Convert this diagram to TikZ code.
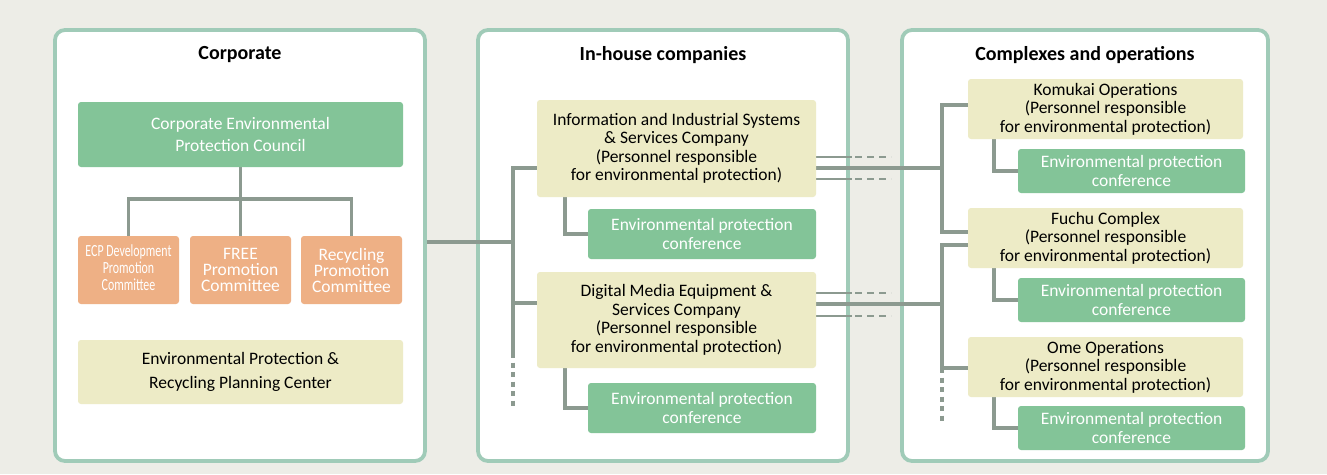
\documentclass[tikz,border=0pt]{standalone}
\usepackage{fontspec}
\setmainfont{Carlito}
\usetikzlibrary{calc}
\definecolor{bgc}{HTML}{EDEDE7}
\definecolor{panelc}{HTML}{A0CBB8}
\definecolor{linec}{HTML}{8C9A90}
\definecolor{greenc}{HTML}{83C498}
\definecolor{orangec}{HTML}{EEB085}
\definecolor{creamc}{HTML}{EDEBC6}
\pgfdeclarelayer{back}
\pgfdeclarelayer{mid}
\pgfsetlayers{back,mid,main}
\tikzset{
  panel/.style={draw=panelc, line width=3.8pt, fill=white, rounded corners=10pt, inner sep=0pt},
  ptitle/.style={font=\fontsize{20}{22}\selectfont\bfseries, inner sep=0pt},
  box/.style={rounded corners=3pt, inner sep=0pt, align=center, font=\fontsize{17.5}{18.5}\selectfont},
  greenbox/.style={box, fill=greenc, text=white},
  orangebox/.style={box, fill=orangec, text=white, font=\fontsize{17.5}{16}\selectfont},
  creambox/.style={box, fill=creamc, text=black},
  ln/.style={draw=linec, line width=3.8pt},
  thinln/.style={draw=linec, line width=2.6pt},
  dotln/.style={draw=linec, line width=3.8pt, dash pattern=on 5pt off 4.5pt},
  dashln/.style={draw=linec, line width=2.6pt, dash pattern=on 7pt off 5pt},
}
\begin{document}
\begin{tikzpicture}[x=1pt,y=-1pt]
\useasboundingbox (0,0) rectangle (1327,474);
\begin{pgfonlayer}{back}
\path[fill=bgc] (0,0) rectangle (1327,474);
\node[panel, minimum width=370pt, minimum height=431pt] (P1) at (240,245.5) {};
\node[panel, minimum width=370pt, minimum height=431pt] (P2) at (663,245.5) {};
\node[panel, minimum width=366pt, minimum height=431pt] (P3) at (1085,245.5) {};
\end{pgfonlayer}
\node[ptitle] (T1) at (240,55) {Corporate};
\node[ptitle] (T2) at (663,55) {In-house companies};
\node[ptitle] (T3) at (1085,55) {Complexes and operations};
% corporate
\node[greenbox, minimum width=325pt, minimum height=65pt, font=\fontsize{17.5}{22}\selectfont] (CC) at (240.5,134.5) {Corporate Environmental\\Protection Council};
\node[orangebox, minimum width=101pt, minimum height=68pt] (O1) at (128.5,270) {\scalebox{0.7}[1]{\fontsize{17}{16.5}\selectfont\begin{tabular}{@{}c@{}}ECP Development\\Promotion\\Committee\end{tabular}}};
\node[orangebox, minimum width=101pt, minimum height=68pt] (O2) at (240.5,270) {FREE\\Promotion\\Committee};
\node[orangebox, minimum width=101pt, minimum height=68pt] (O3) at (351.5,270) {Recycling\\Promotion\\Committee};
\node[creambox, minimum width=325pt, minimum height=64pt, font=\fontsize{17.5}{23.5}\selectfont] (PC) at (240.5,372) {Environmental Protection \&\\Recycling Planning Center};
% in-house
\node[creambox, minimum width=279pt, minimum height=97pt] (IIS) at (676.5,148.5) {Information and Industrial Systems\\\& Services Company\\(Personnel responsible\\for environmental protection)};
\node[greenbox, minimum width=228pt, minimum height=50pt] (C1) at (702,234) {Environmental protection\\conference};
\node[creambox, minimum width=279pt, minimum height=96pt] (DME) at (676.5,320) {Digital Media Equipment \&\\Services Company\\(Personnel responsible\\for environmental protection)};
\node[greenbox, minimum width=228pt, minimum height=50pt] (C2) at (702,408) {Environmental protection\\conference};
% complexes
\node[creambox, minimum width=275pt, minimum height=60pt] (K) at (1105.5,109) {Komukai Operations\\(Personnel responsible\\for environmental protection)};
\node[greenbox, minimum width=227pt, minimum height=44pt] (KC) at (1131.5,171) {Environmental protection\\conference};
\node[creambox, minimum width=275pt, minimum height=60pt] (F) at (1105.5,238) {Fuchu Complex\\(Personnel responsible\\for environmental protection)};
\node[greenbox, minimum width=227pt, minimum height=44pt] (FC) at (1131.5,300) {Environmental protection\\conference};
\node[creambox, minimum width=275pt, minimum height=60pt] (OM) at (1105.5,367) {Ome Operations\\(Personnel responsible\\for environmental protection)};
\node[greenbox, minimum width=227pt, minimum height=44pt] (OC) at (1131.5,428) {Environmental protection\\conference};
% coordinates
\coordinate (cj) at (240.5,199);
\coordinate (ta) at (513,168);
\coordinate (tj) at (513,242);
\coordinate (td) at (513,303);
\coordinate (tb) at (513,353);
\coordinate (te) at (513,407);
\coordinate (xa) at (565,0);
\coordinate (xb) at (994,0);
\coordinate (k1) at (942,105);
\coordinate (k2) at (942,232);
\coordinate (f2) at (942,245);
\coordinate (o2) at (942,368);
\coordinate (o3) at (942,422);
\coordinate (i1) at (942,168);
\coordinate (d1) at (942,304);
\coordinate (sx) at (852,0);
\coordinate (ex) at (891,0);
\coordinate (iu) at (0,157);
\coordinate (il) at (0,179);
\coordinate (du) at (0,293);
\coordinate (dl) at (0,316);
\begin{pgfonlayer}{mid}
% corporate tree
\draw[ln] (CC.south) -- (cj);
\draw[ln] (O1.north) |- (cj) -| (O3.north);
\draw[ln] (cj) -- (O2.north);
% panel1 to trunk
\draw[ln] (P1.east |- tj) -- (tj);
\draw[ln] (IIS.west |- ta) -- (ta) -- (tb);
\draw[ln] (DME.west |- td) -- (td);
\draw[dotln] (tb) -- (te);
\draw[ln] (IIS.south -| xa) |- (C1.west);
\draw[ln] (DME.south -| xa) |- (C2.west);
% right side
\draw[ln] (IIS.east |- i1) -- (i1);
\draw[ln] (DME.east |- d1) -- (d1);
\draw[thinln] (IIS.east |- iu) -- (sx |- iu);
\draw[dashln] ($(sx |- iu)+(3,0)$) -- (ex |- iu);
\draw[thinln] (IIS.east |- il) -- (sx |- il);
\draw[dashln] ($(sx |- il)+(3,0)$) -- (ex |- il);
\draw[thinln] (DME.east |- du) -- (sx |- du);
\draw[dashln] ($(sx |- du)+(3,0)$) -- (ex |- du);
\draw[thinln] (DME.east |- dl) -- (sx |- dl);
\draw[dashln] ($(sx |- dl)+(3,0)$) -- (ex |- dl);
% complexes trunks
\draw[ln] (K.west |- k1) -- (k1) -- (k2) -- (F.west |- k2);
\draw[ln] (F.west |- f2) -- (f2) -- (o2) -- (OM.west |- o2);
\draw[dotln] (o2) -- (o3);
\draw[ln] (K.south -| xb) |- (KC.west);
\draw[ln] (F.south -| xb) |- (FC.west);
\draw[ln] (OM.south -| xb) |- (OC.west);
\end{pgfonlayer}
\end{tikzpicture}
\end{document}
